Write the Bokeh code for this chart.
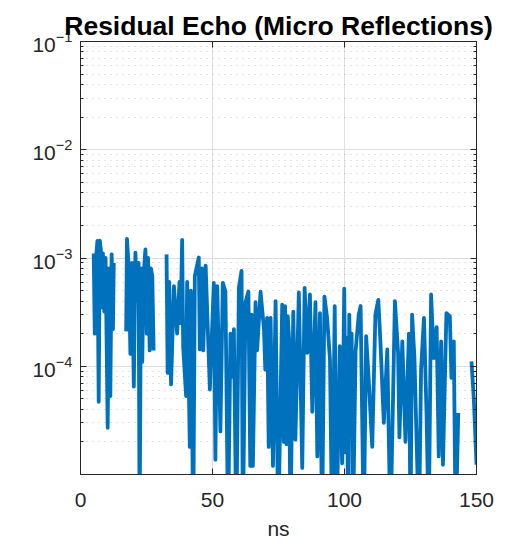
from bokeh.plotting import figure
from bokeh.models import FixedTicker, LinearAxis, LogAxis, LogTickFormatter
from bokeh.embed import file_html
from bokeh.resources import INLINE

nan = float("nan")

ns = [5.0, 5.4, 5.9, 6.4, 6.9, 7.3, 7.7, 8.1, 8.5, 9.0, 9.5, 10.3, 10.8, 11.3, 11.8, 12.3, 12.6,
      14.0,
      17.3, 17.6, 18.3, 18.9, 19.5, 20.2, 20.8, 21.4, 22.0, 22.4, 22.9, 23.4, 23.9, 24.6, 25.1, 25.6,
      26.2, 26.7, 27.2, 27.7,
      30.0,
      32.6, 33.0, 33.6, 34.3, 35.4, 36.6, 37.5, 37.9, 38.5, 38.9, 40.0, 40.4, 41.4, 41.8, 42.7, 43.3,
      44.8, 45.2, 46.0, 46.5, 47.4, 49.0, 50.5, 51.1, 51.8, 53.0, 53.9, 54.9, 55.9, 56.8, 57.6, 58.1,
      59.0, 60.0, 61.0, 61.5, 62.5, 63.6, 64.3, 64.8, 65.3, 66.3, 66.9, 68.2, 69.5, 70.0, 70.7, 71.3,
      72.0, 72.9, 73.9, 74.9, 76.4, 77.0, 77.5, 78.0, 78.5, 79.0, 79.5, 80.6, 81.4, 82.7, 84.0, 84.9,
      85.9, 86.9, 87.8, 89.0, 89.7, 90.7, 91.5, 92.4, 93.4, 94.5, 95.3, 96.3, 97.0, 98.2, 99.1, 99.9,
      100.5, 101.0, 101.3, 101.8, 102.3, 102.7, 103.2, 104.2, 105.4, 106.1, 107.3, 108.2, 109.2, 110.5,
      111.7, 112.8, 113.6, 114.9, 116.2, 117.4, 119.1, 120.3, 120.8, 121.9, 123.1, 124.4, 125.0, 125.6,
      126.5, 128.2, 129.0, 130.1, 131.1, 131.9, 132.8, 133.8, 134.9, 135.7, 136.6, 137.3, 138.6, 139.9,
      140.5, 141.4, 142.1, 143.1,
      145.0,
      148.1, 149.0, 150.0]

echo = [1.1e-3, 2.0e-4, 1.0e-3, 1.44e-3, 4.7e-5, 1.45e-3, 1.2e-3, 3.5e-4, 1.1e-3, 3.2e-4, 1.0e-3,
        2.7e-5, 8.0e-4, 5.3e-5, 1.08e-3, 2.2e-4, 9.0e-4,
        nan,
        2.1e-4, 1.5e-3, 8.0e-4, 1.3e-4, 9.0e-4, 6.5e-5, 1.12e-3, 4.0e-4, 9.0e-4, 3e-6, 8.0e-4, 1.1e-4,
        7.0e-4, 1.2e-3, 2.0e-4, 1.0e-3, 1.4e-4, 8.0e-4, 6.8e-4, 1.4e-4,
        nan,
        1.08e-3, 8.7e-5, 6.0e-4, 6.8e-5, 5.5e-4, 2.0e-4, 6.0e-4, 2.5e-4, 1.47e-3, 1.5e-4, 5.3e-5, 6.0e-4,
        1.8e-5, 5.0e-4, 3e-6, 6.8e-4, 1.01e-3, 1.43e-4, 8.0e-4, 1.4e-4, 8.5e-4, 6.1e-5, 5.9e-4, 1.37e-5,
        5.5e-4, 2.5e-5, 5.9e-4, 4.9e-4, 3e-6, 2.0e-4, 8.0e-5, 2.2e-4, 3e-6, 5.3e-4, 7.6e-4, 3e-6, 3.9e-4,
        4.9e-4, 1.2e-5, 3.0e-4, 1.2e-5, 3.9e-4, 1.4e-4, 4.9e-4, 2.2e-4, 9.3e-5, 2.8e-4, 1.8e-5, 2.8e-4,
        1.2e-5, 4.0e-4, 3e-6, 3.7e-4, 2.0e-5, 3.6e-4, 1.9e-5, 2.9e-4, 1.8e-4, 3e-6, 3.2e-4, 2.1e-5,
        4.8e-4, 1.15e-5, 5.3e-4, 1.33e-4, 4.6e-4, 3.8e-5, 3.9e-4, 1.47e-5, 3.1e-4, 3e-6, 4.4e-4, 2.8e-4,
        1.15e-4, 3e-6, 3.6e-4, 3e-6, 1.53e-4, 1.27e-5, 5.2e-4, 1.6e-5, 1.83e-4, 3e-6, 3.0e-4, 6.1e-5,
        2.0e-4, 3e-6, 1.38e-4, 3.0e-4, 3.6e-4, 3e-6, 1.9e-4, 7.3e-5, 1.8e-5, 3.0e-4, 4.1e-4, 1.7e-4,
        3.0e-5, 1.43e-4, 3e-6, 4.0e-4, 1.33e-4, 2.2e-5, 1.7e-4, 2.0e-5, 2.0e-4, 3e-6, 3.0e-4, 1.19e-4,
        3e-6, 9.3e-5, 2.8e-4, 3.4e-5, 3e-6, 4.6e-4, 1.19e-4, 2.3e-4, 1.47e-5, 1.7e-4, 1.23e-5, 3.1e-4,
        2.9e-4, 7.8e-5, 1.7e-4, 3e-6, 3.7e-5,
        nan,
        1.11e-4, 4.9e-5, 1.23e-5]

x_ticks = [0, 50, 100, 150]
y_ticks = [1e-4, 1e-3, 1e-2, 1e-1]
y_decades = [1e-5, 1e-4, 1e-3, 1e-2]
title_text = "Residual Echo (Micro Reflections)"
x_label = "ns"

y_minor = [m * d for d in y_decades for m in range(2, 10)]

FONT = "Liberation Sans"
AX = "#262626"

p = figure(width=515, height=543, x_range=(0, 150), y_range=(1e-5, 1e-1),
           y_axis_type="log", output_backend="svg", toolbar_location=None,
           min_border_left=80, min_border_right=39, min_border_top=41,
           min_border_bottom=69, title=title_text)
p.background_fill_color = "white"
p.border_fill_color = "white"
p.outline_line_color = AX
p.outline_line_width = 1

p.title.align = "center"
p.title.text_font = FONT
p.title.text_font_size = "26.5px"
p.title.text_font_style = "bold"
p.title.text_color = "black"
p.title.standoff = 1
p.title.offset = 10

xt = FixedTicker(ticks=x_ticks)
yt = FixedTicker(ticks=y_ticks, minor_ticks=y_minor)

xa = p.xaxis[0]
xa.ticker = xt
ya = p.yaxis[0]
ya.ticker = yt
ya.formatter = LogTickFormatter()

for ax in (xa, ya):
    ax.axis_line_color = AX
    ax.major_tick_line_color = AX
    ax.major_tick_in = 6
    ax.major_tick_out = 0
    ax.major_label_text_font = FONT
    ax.major_label_text_font_size = "21px"
    ax.major_label_text_color = AX
xa.minor_tick_line_color = None
xa.major_label_standoff = 18
xa.axis_label = x_label
xa.axis_label_text_font = FONT
xa.axis_label_text_font_size = "21px"
xa.axis_label_text_font_style = "normal"
xa.axis_label_text_color = AX
xa.axis_label_standoff = 7
ya.minor_tick_line_color = AX
ya.minor_tick_in = 3
ya.minor_tick_out = 0
ya.major_label_standoff = 8

top = LinearAxis(ticker=xt, major_label_text_font_size="1px", major_label_text_color=None,
                 major_tick_in=6, major_tick_out=0,
                 minor_tick_line_color=None, axis_line_color=AX, major_tick_line_color=AX,
                 major_label_standoff=0)
right = LogAxis(ticker=yt, major_label_text_font_size="1px", major_label_text_color=None,
                major_tick_in=6, major_tick_out=0,
                minor_tick_in=3, minor_tick_out=0, minor_tick_line_color=AX,
                axis_line_color=AX, major_tick_line_color=AX, major_label_standoff=0)
p.add_layout(top, "above")
p.add_layout(right, "right")

p.xgrid.ticker = xt
p.ygrid.ticker = yt
p.xgrid.grid_line_color = "#DEDEDE"
p.ygrid.grid_line_color = "#DEDEDE"
p.ygrid.minor_grid_line_color = "#C4C4C4"
p.ygrid.minor_grid_line_dash = "1 5"

p.line(ns, echo, line_color="#0072BD", line_width=3.8, line_join="round")

open("out.html", "w").write(file_html(p, INLINE))
